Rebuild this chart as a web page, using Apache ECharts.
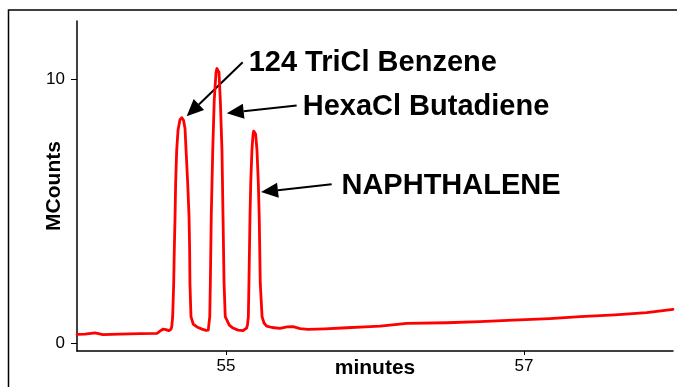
<!DOCTYPE html>
<html><head><meta charset="utf-8">
<script src="https://cdn.jsdelivr.net/npm/echarts@6/dist/echarts.min.js"></script>
<style>html,body{margin:0;padding:0;background:#fff}#c{width:677px;height:387px}</style>
</head><body><div id="c"></div>
<script>
// retention time (minutes)
const minutes = [
54.000,54.054,54.121,54.174,54.289,54.423,54.537,54.557,54.577,54.597,54.617,54.631,54.636,
54.642,54.649,54.653,54.658,54.662,54.669,54.678,54.691,54.697,54.703,54.709,54.715,54.725,54.732,54.743,
54.752,54.756,54.758,54.765,54.780,54.805,54.839,54.866,54.881,
54.891,54.895,54.901,54.911,54.921,54.933,54.939,54.944,54.949,54.953,54.962,54.973,54.980,54.987,54.995,
55.022,55.047,55.081,55.114,55.138,55.144,
55.150,55.154,55.161,55.166,55.174,55.181,55.186,55.190,55.195,55.199,55.208,55.217,55.223,55.230,55.242,
55.255,55.273,55.309,55.362,55.409,55.450,55.497,55.550,55.664,55.810,55.933,56.034,56.134,
56.213,56.481,56.705,56.928,57.174,57.376,57.611,57.823,58.000];
// detector response (MCounts)
const mcounts = [
0.33,0.34,0.39,0.32,0.34,0.36,0.37,0.45,0.53,0.51,0.47,0.53,0.62,
1.00,2.27,3.52,4.78,6.05,7.30,8.06,8.46,8.53,8.54,8.52,8.44,8.13,7.30,6.05,
4.78,3.52,2.27,1.00,0.72,0.61,0.53,0.48,0.49,
1.00,2.27,4.78,7.30,9.19,10.25,10.40,10.43,10.40,10.25,9.19,7.30,4.78,2.27,1.00,
0.68,0.57,0.49,0.47,0.57,0.68,
1.00,2.27,4.78,6.05,7.30,7.87,8.03,8.06,8.03,7.91,7.30,6.05,4.78,2.27,1.00,
0.76,0.64,0.59,0.56,0.61,0.62,0.55,0.52,0.54,0.58,0.61,0.64,0.70,
0.75,0.77,0.81,0.87,0.93,1.00,1.07,1.15,1.28];

const xTickValues = [55, 57];
const yTickValues = [0, 10];

// peak annotations (data coordinates)
const peakLabels = ['124 TriCl Benzene', 'HexaCl Butadiene', 'NAPHTHALENE'];
const labelMin = [55.152, 55.515, 55.775];
const labelVal = [10.60, 8.95, 5.95];
const tailMin = [55.112, 55.474, 55.709];
const tailVal = [10.64, 9.00, 6.02];
const tipMin = [54.736, 55.005, 55.235];
const tipVal = [8.59, 8.71, 5.72];

const FONT = "'Liberation Sans', Arial, Helvetica, sans-serif";
const chart = echarts.init(document.getElementById('c'), null, {renderer: 'canvas'});

const option = {
  animation: false,
  backgroundColor: '#fff',
  grid: {left: 77, top: 21, right: 4, bottom: 36, containLabel: false, outerBoundsMode: 'none'},
  xAxis: {
    type: 'value', min: 54, max: 58,
    name: 'minutes', nameLocation: 'middle', nameGap: 7, nameMoveOverlap: false,
    nameTextStyle: {fontFamily: FONT, fontSize: 21, fontWeight: 'bold', color: '#000', verticalAlign: 'top'},
    axisLine: {show: true, onZero: false, lineStyle: {color: '#000', width: 1.5}},
    axisTick: {show: true, length: 4, customValues: xTickValues, lineStyle: {color: '#000', width: 1}},
    axisLabel: {customValues: xTickValues, fontFamily: FONT, fontSize: 17, color: '#000', margin: 7},
    splitLine: {show: false}
  },
  yAxis: {
    type: 'value', min: -0.3, max: 12.2,
    name: 'MCounts', nameLocation: 'middle', nameGap: 12, nameRotate: 90, nameMoveOverlap: false,
    nameTextStyle: {fontFamily: FONT, fontSize: 21, fontWeight: 'bold', color: '#000'},
    axisLine: {show: true, onZero: false, lineStyle: {color: '#000', width: 1.5}},
    axisTick: {show: true, length: 6, customValues: yTickValues, lineStyle: {color: '#000', width: 1}},
    axisLabel: {customValues: yTickValues, fontFamily: FONT, fontSize: 17, color: '#000', margin: 12},
    splitLine: {show: false}
  },
  series: [{
    type: 'line',
    data: minutes.map((m, i) => [m, mcounts[i]]),
    showSymbol: false,
    symbol: 'none',
    lineStyle: {color: '#ff0000', width: 2.8, join: 'round', cap: 'round'},
    clip: true
  }]
};
chart.setOption(option);

const graphics = [{
  type: 'rect', silent: true,
  shape: {x: 8.5, y: 10, width: 700, height: 400},
  style: {fill: 'none', stroke: '#000', lineWidth: 1.5}
}];
for (let i = 0; i < peakLabels.length; i++) {
  const lp = chart.convertToPixel({gridIndex: 0}, [labelMin[i], labelVal[i]]);
  const tp = chart.convertToPixel({gridIndex: 0}, [tailMin[i], tailVal[i]]);
  const hp = chart.convertToPixel({gridIndex: 0}, [tipMin[i], tipVal[i]]);
  const dx = tp[0] - hp[0], dy = tp[1] - hp[1];
  const len = Math.sqrt(dx * dx + dy * dy);
  const ux = dx / len, uy = dy / len;
  const headLen = 17, headHalf = 7.5;
  const bx = hp[0] + ux * headLen, by = hp[1] + uy * headLen;
  graphics.push({
    type: 'line', silent: true,
    shape: {x1: tp[0], y1: tp[1], x2: bx, y2: by},
    style: {stroke: '#000', lineWidth: 2}
  });
  graphics.push({
    type: 'polygon', silent: true,
    shape: {points: [[hp[0], hp[1]], [bx - uy * headHalf, by + ux * headHalf], [bx + uy * headHalf, by - ux * headHalf]]},
    style: {fill: '#000'}
  });
  graphics.push({
    type: 'text', silent: true,
    x: lp[0], y: lp[1],
    style: {text: peakLabels[i], font: "bold 29px " + FONT, fill: '#000', align: 'left', verticalAlign: 'middle'}
  });
}
chart.setOption({graphic: graphics});
</script>
</body></html>
